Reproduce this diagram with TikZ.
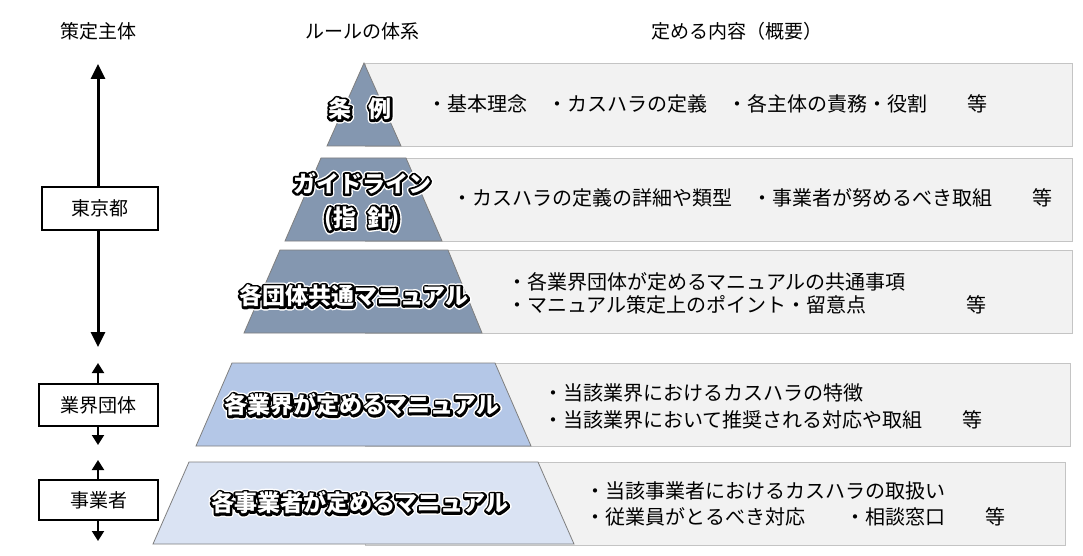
\documentclass[tikz,border=0pt]{standalone}
\usepackage{fontspec}
\newfontfamily\jp{Noto Sans CJK JP}
\usetikzlibrary{arrows.meta}
\definecolor{slate}{HTML}{8497B0}
\definecolor{midblue}{HTML}{B4C7E7}
\definecolor{paleblue}{HTML}{DAE3F3}
\definecolor{boxgray}{HTML}{F2F2F2}
\definecolor{boxline}{HTML}{C4C4C4}
\definecolor{layerline}{HTML}{7F7F7F}
% #1 render mode, #2 line width, #3 text
\newcommand\strokeit[3]{\special{pdf:literal direct #1 Tr #2 w 1 j}#3\special{pdf:literal direct 0 Tr}}
\newcommand\outlinedlabel[3]{%
  \node[lbl,text=white] at (#2) {\strokeit{1}{7.2}{#3}};
  \node[lbl,text=black] at (#2) {\strokeit{1}{4.4}{#3}};
  \node[lbl,text=white] (#1) at (#2) {#3};
}
\begin{document}
\begin{tikzpicture}[x=1pt,y=-1pt,
  hdr/.style={font=\jp\fontsize{19}{22}\selectfont, inner sep=0pt},
  body/.style={font=\jp\fontsize{20}{24}\selectfont, anchor=west, inner sep=0pt},
  lbl/.style={font=\jp\bfseries\fontsize{23}{34}\selectfont, align=center, inner sep=0pt},
  infobox/.style={fill=boxgray, draw=boxline, line width=0.8pt},
  layer/.style={draw=layerline, line width=0.8pt},
  actor/.style={draw=black, fill=white, line width=1.2pt, inner sep=0pt,
    font=\jp\fontsize{19}{22}\selectfont},
  mainarrow/.style={line width=3pt, -{Triangle[width=14pt,length=15pt]}},
  subarrow/.style={line width=2pt, -{Triangle[width=12pt,length=10pt]}}]
\useasboundingbox (0,0) rectangle (1083,556);
\fill[white] (0,0) rectangle (1083,556);

% headers
\node[hdr] (h1) at (98,31) {策定主体};
\node[hdr] (h2) at (362,31) {ルールの体系};
\node[hdr] (h3) at (737,31) {定める内容（概要）};

% content boxes
\draw[infobox] (365,63) rectangle (1072,146);
\draw[infobox] (365,158) rectangle (1072,241);
\draw[infobox] (365,250) rectangle (1072,333);
\draw[infobox] (365,363) rectangle (1070,446);
\draw[infobox] (365,462) rectangle (1065,545);

% pyramid layers
\draw[layer, fill=slate] (364,63) -- (401,146) -- (327,146) -- cycle;
\draw[layer, fill=slate] (321,158) -- (406,158) -- (442,241) -- (285,241) -- cycle;
\draw[layer, fill=slate] (280,250) -- (448,250) -- (482,333) -- (244,333) -- cycle;
\draw[layer, fill=midblue] (232,363) -- (495,363) -- (531,446) -- (196,446) -- cycle;
\draw[layer, fill=paleblue] (189,462) -- (538,462) -- (574,544) -- (153,544) -- cycle;

% pyramid labels
\coordinate (p1) at (360,109);
\coordinate (p2) at (362,202);
\coordinate (p3) at (354,296);
\coordinate (p4) at (362,405);
\coordinate (p5) at (360,503);
\outlinedlabel{l1}{p1}{条\hspace{0.75em}例}
\outlinedlabel{l2}{p2}{ガイドライン\\(指\hspace{0.5em}針)}
\outlinedlabel{l3}{p3}{各団体共通マニュアル}
\outlinedlabel{l4}{p4}{各業界が定めるマニュアル}
\outlinedlabel{l5}{p5}{各事業者が定めるマニュアル}

% contents
\node[body] (t1) at (427,104) {・基本理念　・カスハラの定義　・各主体の責務・役割　　等};
\node[body] (t2) at (452,198) {・カスハラの定義の詳細や類型　・事業者が努めるべき取組　　等};
\node[body] (t3a) at (507,282) {・各業界団体が定めるマニュアルの共通事項};
\node[body] (t3b) at (507,305) {・マニュアル策定上のポイント・留意点　　　　　等};
\node[body] (t4a) at (543,393) {・当該業界におけるカスハラの特徴};
\node[body] (t4b) at (543,420) {・当該業界において推奨される対応や取組　　等};
\node[body] (t5a) at (585,491) {・当該事業者におけるカスハラの取扱い};
\node[body] (t5b) at (585,517) {・従業員がとるべき対応　　・相談窓口　　等};

% actors
\node[actor, minimum width=116pt, minimum height=43pt] (tokyo) at (100,208.5) {東京都};
\node[actor, minimum width=119pt, minimum height=42pt] (gyokai) at (98.5,405) {業界団体};
\node[actor, minimum width=119pt, minimum height=40pt] (jigyo) at (98.5,500) {事業者};

\coordinate (topTip) at (98,64);
\coordinate (botTip) at (98,347);
\coordinate (gUp) at (98,363);
\coordinate (gDown) at (98,445);
\coordinate (jUp) at (98,460);
\coordinate (jDown) at (98,541);
\draw[mainarrow] (tokyo.north -| topTip) -- (topTip);
\draw[mainarrow] (tokyo.south -| botTip) -- (botTip);
\draw[subarrow] (gyokai.north -| gUp) -- (gUp);
\draw[subarrow] (gyokai.south -| gDown) -- (gDown);
\draw[subarrow] (jigyo.north -| jUp) -- (jUp);
\draw[subarrow] (jigyo.south -| jDown) -- (jDown);
\end{tikzpicture}
\end{document}
